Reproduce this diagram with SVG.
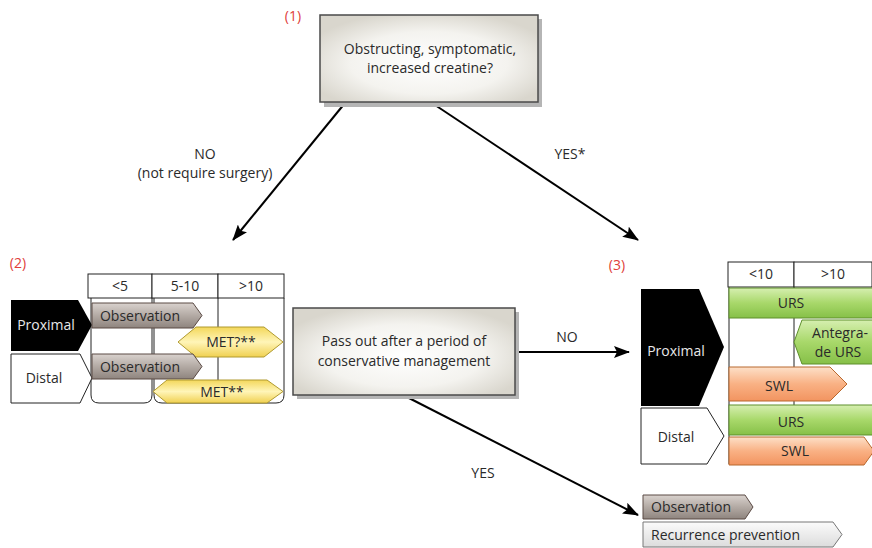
<svg xmlns="http://www.w3.org/2000/svg" width="872" height="548" viewBox="0 0 872 548">
<defs>
<radialGradient id="boxg" cx="50%" cy="55%" r="60%">
<stop offset="0" stop-color="#ffffff"/><stop offset="0.6" stop-color="#f4f3ef"/><stop offset="1" stop-color="#d9d6cd"/>
</radialGradient>
<linearGradient id="obsg" x1="0" y1="0" x2="0" y2="1">
<stop offset="0" stop-color="#d9d2ce"/><stop offset="0.5" stop-color="#b3aaa4"/><stop offset="1" stop-color="#8e847e"/>
</linearGradient>
<linearGradient id="recg" x1="0" y1="0" x2="0" y2="1">
<stop offset="0" stop-color="#fbfbfb"/><stop offset="1" stop-color="#dcdcdc"/>
</linearGradient>
<linearGradient id="metg" x1="0" y1="0" x2="0" y2="1">
<stop offset="0" stop-color="#f3d75a"/><stop offset="0.5" stop-color="#fff5b8"/><stop offset="1" stop-color="#f0d050"/>
</linearGradient>
<linearGradient id="grg" x1="0" y1="0" x2="0" y2="1">
<stop offset="0" stop-color="#d6efb0"/><stop offset="0.5" stop-color="#a8d86a"/><stop offset="1" stop-color="#86c048"/>
</linearGradient>
<linearGradient id="org" x1="0" y1="0" x2="0" y2="1">
<stop offset="0" stop-color="#fde0c8"/><stop offset="0.5" stop-color="#f9b184"/><stop offset="1" stop-color="#f29460"/>
</linearGradient>
<marker id="ah" viewBox="0 0 16 12" refX="15" refY="6" markerWidth="16" markerHeight="12" markerUnits="userSpaceOnUse" orient="auto">
<path d="M0,0 L16,6 L0,12 L3,6 z" fill="#000"/>
</marker>
</defs>
<style>
text{font-family:"Open Sans","Noto Sans","Liberation Sans",sans-serif;font-size:14px;fill:#2a2a2a}
.c{text-anchor:middle}
.red{fill:#e0403a}
.box{fill:url(#boxg);stroke:#4a4a4a;stroke-width:1.5}
.sh{fill:#b5b5b5}
.cell{fill:#fff;stroke:#222;stroke-width:1}
.ln{fill:none;stroke:#222;stroke-width:1}
.obs{fill:url(#obsg);stroke:#5a4a44;stroke-width:1}
.rec{fill:url(#recg);stroke:#777;stroke-width:1}
.met{fill:url(#metg);stroke:#b09a30;stroke-width:1}
.gr{fill:url(#grg);stroke:#5e8f2c;stroke-width:1}
.or{fill:url(#org);stroke:#b8682e;stroke-width:1}
.con{fill:none;stroke:#000;stroke-width:2}
.wt{fill:#e8e8e8}
</style>

<g id="labels">
<text class="red" x="293" y="21" text-anchor="middle">(1)</text>
<text class="red" x="18" y="268" text-anchor="middle">(2)</text>
<text class="red" x="617" y="270" text-anchor="middle">(3)</text>
</g>

<g id="connectors">
<line class="con" x1="345" y1="103" x2="233" y2="240" marker-end="url(#ah)"/>
<line class="con" x1="432" y1="103" x2="638" y2="240" marker-end="url(#ah)"/>
<line class="con" x1="515" y1="352" x2="629" y2="352" marker-end="url(#ah)"/>
<line class="con" x1="405" y1="396" x2="638" y2="515" marker-end="url(#ah)"/>
<text class="c" x="205" y="159">NO</text>
<text class="c" x="205" y="178">(not require surgery)</text>
<text class="c" x="570" y="159">YES*</text>
<text class="c" x="567" y="342">NO</text>
<text class="c" x="483" y="478">YES</text>
</g>

<g id="question">
<rect class="sh" x="324" y="19" width="218" height="88"/>
<rect class="box" x="320" y="15" width="218" height="87"/>
<text class="c" x="430" y="54">Obstructing, symptomatic,</text>
<text class="c" x="430" y="73">increased creatine?</text>
</g>

<g id="passout">
<rect class="sh" x="297" y="312" width="222" height="87"/>
<rect class="box" x="293" y="308" width="222" height="87"/>
<text class="c" x="404" y="346">Pass out after a period of</text>
<text class="c" x="404" y="366">conservative management</text>
</g>

<g id="table-left">
<rect class="cell" x="88" y="274" width="64" height="24"/>
<rect class="cell" x="152" y="274" width="66" height="24"/>
<rect class="cell" x="218" y="274" width="66" height="24"/>
<text class="c" x="120" y="291">&lt;5</text>
<text class="c" x="185" y="291">5-10</text>
<text class="c" x="251" y="291">&gt;10</text>
<path class="ln" d="M91,298 V395 Q91,403 99,403 H144 Q152,403 152,395 V298"/>
<path class="ln" d="M154,298 V395 Q154,403 162,403 H276 Q284,403 284,395 V298"/>
<line class="ln" x1="218" y1="298" x2="218" y2="382"/>
</g>

<g id="proximal-left">
<path d="M11,300 H78 L92,325 L78,351 H11 Z" fill="#000"/>
<text x="46" y="330" class="c wt">Proximal</text>
</g>
<g id="distal-left">
<path d="M11,354 H80 L92,378 L80,403 H11 Z" fill="#fff" stroke="#222" stroke-width="1"/>
<text x="44" y="383" class="c">Distal</text>
</g>

<g id="obs-prox">
<path class="obs" d="M92,303 H193 L202,315.5 L193,328 H92 Z"/>
<text x="140" y="321" class="c">Observation</text>
</g>
<g id="met-q">
<path class="met" d="M178,342 L196,327 H264 L283,342 L264,357 H196 Z"/>
<text x="231" y="347" class="c">MET?**</text>
</g>
<g id="obs-dist">
<path class="obs" d="M92,354 H193 L202,366.5 L193,379 H92 Z"/>
<text x="140" y="372" class="c">Observation</text>
</g>
<g id="met">
<path class="met" d="M153,391.5 L167,380 H267 L283,391.5 L267,403 H167 Z"/>
<text x="222" y="397" class="c">MET**</text>
</g>

<g id="table-right">
<rect class="cell" x="728" y="262" width="66" height="25"/>
<rect class="cell" x="794" y="262" width="78" height="25"/>
<text class="c" x="761" y="279">&lt;10</text>
<text class="c" x="833" y="279">&gt;10</text>
<line class="ln" x1="729" y1="287" x2="729" y2="464"/>
<line class="ln" x1="794" y1="287" x2="794" y2="405"/>
</g>

<g id="proximal-right">
<path d="M641,289 H699 L724,347 L699,406 H641 Z" fill="#000"/>
<text x="676" y="356" class="c wt">Proximal</text>
</g>
<g id="distal-right">
<path d="M641,408 H707 L724,436 L707,464 H641 Z" fill="#fff" stroke="#222" stroke-width="1"/>
<text x="676" y="442" class="c">Distal</text>
</g>

<g id="urs-prox">
<rect class="gr" x="729" y="288" width="145" height="30"/>
<text x="791" y="308" class="c">URS</text>
</g>
<g id="antegrade">
<path class="gr" d="M794,342 L802,320 H874 V364 H802 Z"/>
<text x="840" y="338" class="c">Antegra-</text>
<text x="838" y="357" class="c">de URS</text>
</g>
<g id="swl-prox">
<path class="or" d="M729,367 H830 L847,384 L830,401 H729 Z"/>
<text x="779" y="391" class="c">SWL</text>
</g>
<g id="urs-dist">
<rect class="gr" x="729" y="405" width="145" height="30"/>
<text x="791" y="427" class="c">URS</text>
</g>
<g id="swl-dist">
<path class="or" d="M729,437 H864 L874,451 L864,465 H729 Z"/>
<text x="795" y="456" class="c">SWL</text>
</g>

<g id="obs-bottom">
<path class="obs" d="M643,495 H745 L753,507 L745,519 H643 Z"/>
<text x="651" y="512">Observation</text>
</g>
<g id="recurrence">
<path class="rec" d="M643,522 H833 L842,534.5 L833,547 H643 Z"/>
<text x="651" y="540">Recurrence prevention</text>
</g>
</svg>
